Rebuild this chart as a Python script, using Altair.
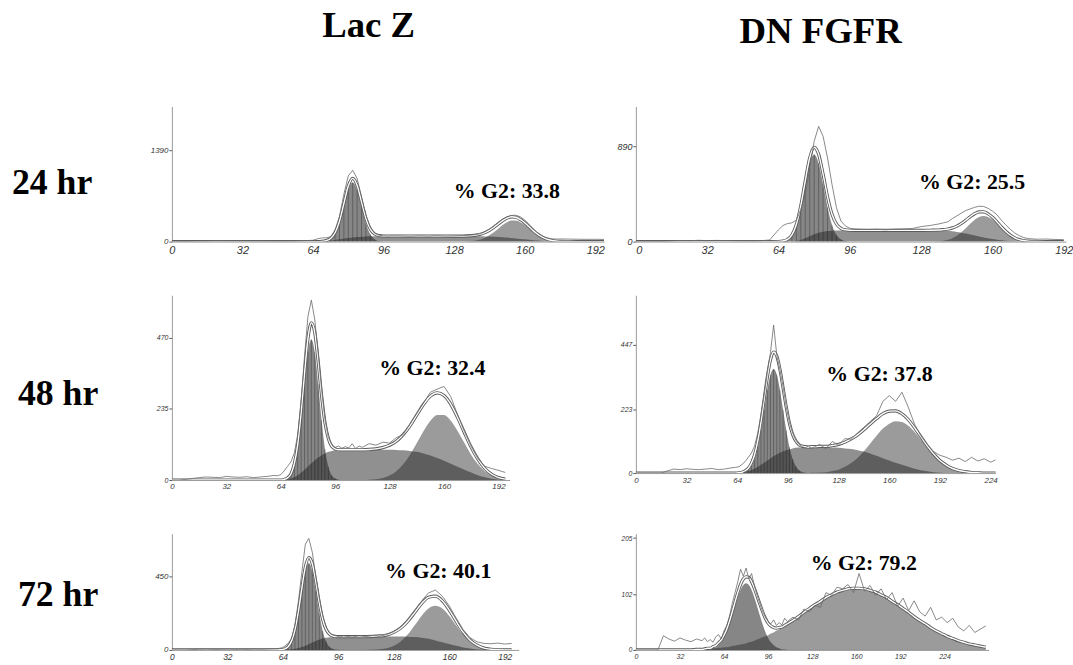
import altair as alt
import pandas as pd

# ---------------- Panel 1 : Lac Z, 24 hr ----------------
P1_X = [0, 4, 8, 12, 16, 20, 24, 28, 32, 36, 40, 44, 48, 52, 56, 60,
        64, 66, 68, 70, 72, 74, 76, 78, 80, 82, 84, 86, 88, 90, 92, 94, 96, 98, 100,
        104, 108, 112, 116, 120, 124, 128, 132, 136,
        138, 140, 142, 144, 146, 148, 150, 152, 154, 156, 158, 160, 162, 164, 166, 168, 170, 172, 174, 176,
        180, 184, 188, 192, 196]
P1_G1 = [0] * 16 + [0, 0, 1, 8, 33, 110, 275, 532, 789, 900, 789, 532, 275, 110, 33, 8, 1, 0, 0] + [0] * 9 + [0] * 20 + [0] * 5
P1_S = [0] * 16 + [0, 0, 2, 8, 15, 25, 35, 45, 55, 62, 68, 73, 77, 80, 82, 83, 84, 85, 85] + \
       [85, 85, 85, 85, 85, 85, 84, 83, 82] + \
       [81, 80, 78, 76, 73, 70, 66, 61, 55, 48, 41, 34, 27, 21, 15, 10, 6, 3, 1, 0] + [0, 0, 0, 0, 0]
P1_G2 = [0] * 16 + [0] * 19 + [0, 0, 0, 0, 0, 0, 0, 1, 8] + \
        [17, 33, 58, 95, 142, 197, 252, 296, 322, 322, 296, 252, 197, 142, 95, 58, 33, 17, 8, 4] + [1, 0, 0, 0, 0]
P1_FIT = [0] * 16 + [0, 0, 3, 16, 48, 135, 310, 577, 844, 962, 857, 605, 352, 190, 115, 91, 85, 85, 85] + \
         [85, 85, 85, 85, 85, 85, 84, 84, 90] + \
         [98, 113, 136, 171, 215, 267, 318, 357, 377, 370, 337, 286, 224, 163, 110, 68, 39, 20, 9, 4] + [1, 0, 0, 0, 0]
P1_RAW = [0, 0, 3, 5, 8, 12, 10, 9, 8, 7, 8, 6, 5, 6, 8, 14] + \
         [20, 42, 55, 58, 75, 175, 380, 720, 1000, 1085, 960, 680, 400, 215, 125, 96, 88, 84, 88] + \
         [86, 82, 88, 84, 90, 85, 88, 92, 100] + \
         [105, 122, 150, 190, 240, 292, 340, 378, 398, 400, 378, 330, 262, 190, 130, 85, 56, 44, 38, 40] + \
         [38, 36, 34, 35, 33]

# ---------------- Panel 2 : DN FGFR, 24 hr ----------------
P2_X = [0, 4, 8, 12, 16, 20, 24, 28, 32, 36, 40, 44, 48, 52, 56, 60,
        64, 66, 68, 70, 72, 74, 76, 78, 80, 82, 84, 86, 88, 90, 92, 94, 96, 98, 100,
        104, 108, 112, 116, 120, 124, 128, 132, 136,
        138, 140, 142, 144, 146, 148, 150, 152, 154, 156, 158, 160, 162, 164, 166, 168, 170, 172, 174, 176,
        180, 184, 188, 192]
P2_G1 = [0] * 16 + [1, 5, 20, 61, 155, 320, 537, 732, 812, 732, 537, 320, 155, 61, 20, 5, 1, 0, 0] + [0] * 9 + [0] * 20 + [0] * 4
P2_S = [0] * 16 + [0, 0, 0, 1, 5, 15, 30, 50, 68, 82, 92, 98, 101, 103, 104, 105, 105, 105, 105] + \
       [105, 105, 105, 105, 105, 105, 105, 105, 104] + \
       [103, 100, 96, 90, 83, 75, 66, 57, 48, 39, 31, 24, 18, 13, 9, 6, 3, 2, 1, 0] + [0, 0, 0, 0]
P2_G2 = [0] * 16 + [0] * 19 + [0, 0, 0, 0, 0, 0, 0, 1, 4] + \
        [9, 17, 32, 55, 86, 124, 166, 203, 229, 239, 229, 203, 166, 124, 86, 55, 32, 17, 9, 4] + [1, 0, 0, 0]
P2_FIT = [0] * 16 + [1, 5, 20, 62, 160, 335, 567, 782, 880, 814, 629, 418, 256, 164, 124, 110, 106, 105, 105] + \
         [105, 105, 105, 105, 105, 105, 105, 106, 108] + \
         [112, 117, 128, 145, 169, 199, 232, 260, 277, 278, 260, 227, 184, 137, 95, 61, 35, 19, 10, 4] + [1, 0, 0, 0]
P2_RAW = [0, 0, 0, 0, 5, 10, 8, 12, 9, 11, 10, 8, 7, 6, 8, 15] + \
         [110, 150, 168, 175, 200, 300, 440, 688, 936, 1075, 983, 781, 533, 316, 192, 146, 124, 118, 115] + \
         [112, 115, 110, 116, 118, 122, 140, 150, 165] + \
         [175, 185, 215, 240, 265, 290, 305, 320, 330, 328, 310, 285, 250, 200, 155, 115, 80, 55, 38, 28] + \
         [22, 24, 20, 18]

# ---------------- Panel 3 : Lac Z, 48 hr ----------------
P3_X = [0, 4, 8, 12, 16, 20, 24, 28, 32, 36, 40, 44, 48, 52, 56, 60,
        62, 64, 66, 68, 70, 72, 74, 76, 78, 80, 82, 84, 86, 88, 90, 92, 94, 96, 98, 100, 102, 104, 106, 108, 110,
        112, 116, 120, 124, 128, 132, 136, 140, 144, 148, 152, 156, 160, 164, 168, 172, 176, 180, 184, 188, 192, 196]
P3_G1 = [0] * 16 + [0, 0, 1, 5, 15, 44, 102, 198, 318, 422, 464, 422, 318, 198, 102, 44, 15, 5, 1, 0, 0, 0, 0, 0, 0] + [0] * 22
P3_S = [0] * 16 + [0, 0, 1, 2, 5, 10, 16, 25, 34, 45, 55, 65, 74, 82, 88, 93, 96, 98, 99, 100, 100, 100, 100, 100, 100] + \
       [100, 100, 100, 100, 100, 99, 98, 96, 93, 88, 81, 73, 64, 54, 44, 34, 25, 16, 9, 4, 1, 0]
P3_G2 = [0] * 16 + [0] * 25 + [0, 1, 3, 7, 15, 29, 52, 83, 122, 162, 196, 215, 215, 196, 162, 122, 83, 52, 29, 15, 7, 3]
P3_FIT = [0] * 16 + [0, 0, 2, 7, 20, 54, 118, 223, 352, 467, 519, 487, 392, 280, 190, 137, 111, 103, 100, 100, 100, 100, 100, 100, 100] + \
         [100, 101, 103, 107, 115, 128, 150, 179, 215, 250, 277, 288, 279, 250, 206, 156, 108, 68, 38, 19, 8, 3]
P3_RAW = [0, 0, 2, 5, 8, 10, 9, 8, 12, 10, 9, 11, 8, 10, 12, 15] + \
         [14, 18, 30, 45, 60, 90, 150, 260, 410, 540, 594, 530, 420, 300, 200, 140, 118, 108, 112, 105, 110, 106, 120, 104, 112] + \
         [108, 120, 115, 125, 122, 140, 150, 185, 220, 255, 290, 300, 309, 275, 215, 160, 110, 70, 45, 38, 32, 25]

# ---------------- Panel 4 : DN FGFR, 48 hr ----------------
P4_X = [0, 4, 8, 12, 16, 20, 24, 28, 32, 36, 40, 44, 48, 52, 56, 60,
        63, 65, 67, 69, 71, 73, 75, 77, 79, 81, 83, 85, 87, 89, 91, 93, 95, 97, 99, 101, 103, 105, 107, 109, 111, 113,
        116, 120, 124, 128, 132, 136, 140, 144, 148, 152, 156, 160, 164, 168, 172, 176, 180, 184, 188, 192, 196,
        200, 204, 208, 212, 216, 220, 224, 228]
P4_G1 = [0] * 16 + [0, 0, 1, 4, 10, 24, 49, 90, 149, 220, 290, 343, 363, 343, 290, 220, 149, 90, 49, 24, 10, 4, 1, 0, 0, 0] + [0] * 29
P4_S = [0] * 16 + [0, 1, 2, 4, 7, 11, 16, 22, 29, 36, 44, 52, 59, 65, 71, 76, 80, 83, 86, 88, 89, 90, 91, 91, 91, 91] + \
       [91, 90, 89, 88, 86, 84, 80, 75, 68, 60, 52, 44, 36, 29, 22, 15, 10, 6, 3, 1, 0, 0, 0, 0, 0, 0, 0, 0, 0]
P4_G2 = [0] * 16 + [0] * 24 + [1, 1] + \
        [2, 3, 7, 12, 22, 35, 53, 76, 103, 130, 155, 172, 181, 178, 165, 143, 117, 89, 64, 43, 28, 16, 9, 5, 2, 1, 0, 0, 0]
P4_FIT = [0] * 16 + [0, 1, 3, 8, 17, 35, 65, 112, 178, 256, 334, 395, 422, 408, 361, 296, 229, 173, 135, 112, 99, 94, 92, 91, 92, 92] + \
         [93, 93, 96, 100, 108, 119, 133, 151, 171, 190, 207, 216, 217, 207, 187, 158, 127, 95, 67, 44, 28, 16, 9, 5, 2, 1, 0, 0, 0]
P4_RAW = [0, 0, 0, 0, 0, 8, 14, 12, 15, 13, 12, 14, 16, 12, 14, 18] + \
         [20, 22, 30, 40, 55, 70, 95, 140, 200, 270, 350, 420, 516, 410, 360, 300, 230, 175, 140, 115, 100, 92, 88, 95, 85, 92] + \
         [100, 85, 110, 98, 120, 118, 140, 160, 180, 200, 250, 270, 250, 282, 230, 170, 130, 100, 75, 62, 55, 45, 52, 40, 55, 42, 50, 38, 48]

# ---------------- Panel 5 : Lac Z, 72 hr ----------------
P5_X = [0, 4, 8, 12, 16, 20, 24, 28, 32, 36, 40, 44, 48, 52, 56, 60,
        61, 63, 65, 67, 69, 71, 73, 75, 77, 79, 81, 83, 85, 87, 89, 91, 93, 95, 97, 99,
        100, 104, 108, 112, 116, 120, 124, 128, 132, 136, 140, 144, 148, 152, 156, 160, 164, 168, 172, 176,
        180, 184, 188, 192, 196]
P5_G1 = [0] * 16 + [0, 1, 5, 18, 50, 117, 227, 364, 484, 532, 484, 364, 227, 117, 50, 18, 5, 1, 0, 0] + [0] * 25
P5_S = [0] * 16 + [0, 0, 1, 2, 4, 7, 12, 18, 26, 35, 45, 55, 63, 70, 75, 78, 80, 81, 82, 82] + \
       [82, 82, 82, 82, 82, 82, 82, 82, 82, 81, 79, 75, 68, 58, 47, 36, 25, 15, 8, 3, 1, 0, 0, 0, 0]
P5_G2 = [0] * 16 + [0] * 20 + [0, 0, 0, 0, 1, 4, 10, 26, 52, 94, 150, 209, 255, 272, 255, 209, 150, 94, 52, 26, 10, 4, 1, 0, 0]
P5_FIT = [0] * 16 + [0, 1, 6, 20, 54, 124, 239, 382, 510, 567, 529, 419, 290, 187, 125, 96, 85, 82, 82, 82] + \
         [82, 82, 82, 82, 83, 86, 92, 108, 134, 175, 229, 284, 323, 330, 302, 245, 175, 109, 60, 29, 11, 4, 1, 0, 0]
P5_RAW = [0, 0, 0, 2, 4, 5, 3, 4, 5, 3, 4, 3, 5, 4, 6, 8] + \
         [8, 12, 22, 40, 70, 150, 300, 480, 650, 685, 600, 450, 320, 210, 140, 105, 92, 85, 80, 86] + \
         [84, 80, 86, 82, 88, 85, 95, 112, 140, 190, 245, 300, 350, 368, 330, 270, 195, 125, 75, 50, 40, 38, 42, 36, 40]

# ---------------- Panel 6 : DN FGFR, 72 hr ----------------
P6_X = [0, 4, 8, 12, 16, 20, 24, 28, 32, 36, 40, 44, 48,
        50, 52, 54, 56, 58, 60, 62, 64, 66, 68, 70, 72, 74, 76, 78, 80, 82, 84, 86, 88, 90, 92, 94, 96, 98,
        100, 102, 104, 106, 108, 110,
        114, 118, 122, 126, 130, 134, 138, 142, 146, 150, 154, 158, 162, 166, 170, 174, 178, 182, 186, 190,
        194, 198, 202, 206, 210, 214, 218, 222, 226, 230, 234, 238, 242, 246, 250, 254]
P6_G1 = [0] * 13 + [0, 1, 1, 3, 5, 9, 14, 22, 33, 47, 63, 80, 96, 110, 119, 122, 119, 110, 96, 80, 63, 47, 33, 22, 14, 9, 5, 3, 1, 1, 0] + [0] * 36
P6_S = [0] * 80
P6_G2 = [0, 0, 0, 0, 0, 0, 0, 0, 0, 0, 0, 1, 1] + \
        [2, 2, 2, 3, 3, 4, 4, 5, 5, 6, 7, 8, 9, 10, 11, 12, 14, 15, 17, 19, 21, 23, 25, 27, 30, 32, 35, 38, 41, 44, 48] + \
        [54, 61, 69, 76, 83, 89, 96, 101, 106, 109, 112, 113, 113, 112, 109, 106, 101, 96, 89, 83, 76, 69, 61, 54,
         48, 41, 35, 30, 25, 21, 17, 14, 11, 9, 7, 5]
P6_FIT = [0, 0, 0, 0, 0, 0, 0, 0, 0, 0, 0, 1, 1] + \
         [2, 3, 3, 6, 8, 13, 18, 27, 38, 53, 70, 88, 105, 120, 130, 134, 133, 125, 113, 99, 84, 70, 58, 49, 44, 41, 40, 41, 42, 45, 48] + \
         [54, 61, 69, 76, 83, 89, 96, 101, 106, 109, 112, 113, 113, 112, 109, 106, 101, 96, 89, 83, 76, 69, 61, 54,
          48, 41, 35, 30, 25, 21, 17, 14, 11, 9, 7, 5]
P6_RAW = [0, 0, 0, 0, 0, 26, 20, 16, 22, 18, 15, 20, 17] + \
         [22, 15, 19, 14, 24, 28, 20, 35, 45, 62, 85, 105, 125, 148, 135, 150, 130, 140, 118, 100, 85, 70, 60, 52, 48, 55, 45, 50, 46, 58, 52] + \
         [60, 55, 75, 70, 82, 78, 105, 100, 115, 112, 120, 105, 140, 108, 118, 100, 112, 92, 105, 80, 95, 72, 90, 70,
          62, 78, 55, 60, 50, 58, 42, 35, 45, 32, 38, 44]

# ---------------- labels ----------------
COL_TITLES = ["Lac Z", "DN FGFR"]
ROW_TITLES = ["24 hr", "48 hr", "72 hr"]
G2_NOTES = ["% G2: 33.8", "% G2: 25.5", "% G2: 32.4", "% G2: 37.8", "% G2: 40.1", "% G2: 79.2"]
TICKS_192 = [0, 32, 64, 96, 128, 160, 192]
TICKS_224 = [0, 32, 64, 96, 128, 160, 192, 224]

SERIF = "Liberation Serif"
SANS = "Liberation Sans"


def long_df(x, g1, s, g2, fit, raw):
    rows = []
    for name, arr in (("g1", g1), ("s", s), ("g2", g2), ("fit", fit), ("raw", raw)):
        assert len(arr) == len(x), (name, len(arr), len(x))
        for xi, yi in zip(x, arr):
            rows.append({"x": xi, "val": yi, "comp": name})
    return pd.DataFrame(rows)


def panel(data, xmax, ymax, xticks, yticks, w, h, note, note_xy, xfs, yfs,
          header=None, header_xy=None, flush=False, stripes=True):
    df = long_df(*data)
    X = alt.X("x:Q", scale=alt.Scale(domain=[0, xmax], nice=False, zero=False),
              axis=alt.Axis(values=xticks, title=None, grid=False, labelFontSize=xfs, tickSize=0,
                            labelPadding=3, labelFlush=flush, domainColor="#9a9a9a", domainWidth=1,
                            labelColor="#333333", labelFont=SANS, labelFontStyle="italic",
                            labelOverlap=False))
    Y = alt.Y("val:Q", scale=alt.Scale(domain=[0, ymax], nice=False),
              axis=alt.Axis(values=yticks, title=None, grid=False, labelFontSize=yfs, tickSize=3,
                            tickColor="#555555", labelPadding=1, domainColor="#9a9a9a", domainWidth=1,
                            labelColor="#333333", labelFont=SANS, labelFontStyle="italic",
                            labelOverlap=False, format="d"))
    base = alt.Chart(df)

    def comp(c):
        return base.transform_filter(alt.datum.comp == c)

    layers = [
        comp("s").mark_area(color="#222222", opacity=0.5, interpolate="monotone", clip=True).encode(x=X, y=Y),
        comp("g2").mark_area(color="#222222", opacity=0.45, interpolate="monotone", clip=True).encode(x=X, y=Y),
        comp("g1").mark_area(color="#222222", opacity=0.55, interpolate="monotone", clip=True).encode(x=X, y=Y),
    ]
    if stripes:
        layers.append(
            comp("g1").transform_filter(alt.datum.val > 4)
            .mark_rule(color="#111111", strokeWidth=0.7, opacity=0.45, clip=True)
            .encode(x=X, y=Y, y2=alt.datum(0)))
    layers += [
        comp("fit").mark_line(color="#5a5a5a", strokeWidth=3.2, interpolate="monotone", clip=True).encode(x=X, y=Y),
        comp("fit").mark_line(color="white", strokeWidth=1.4, interpolate="monotone", clip=True).encode(x=X, y=Y),
        comp("raw").mark_line(color="#6a6a6a", strokeWidth=0.8, clip=True).encode(x=X, y=Y),
    ]
    note_df = pd.DataFrame({"x": [note_xy[0]], "val": [note_xy[1]], "t": [note]})
    layers.append(
        alt.Chart(note_df).mark_text(align="left", baseline="alphabetic", font=SERIF, fontWeight="bold",
                                     fontSize=22, color="black")
        .encode(x=X, y=Y, text="t:N"))
    if header is not None:
        hdf = pd.DataFrame({"t": [header]})
        layers.append(
            alt.Chart(hdf).mark_text(align="center", baseline="alphabetic", font=SERIF, fontWeight="bold",
                                     fontSize=37, color="black")
            .encode(x=alt.value(header_xy[0]), y=alt.value(header_xy[1]), text="t:N"))
    return alt.layer(*layers).properties(width=w, height=h)


def row_label(text, h, lx, ly):
    d = pd.DataFrame({"t": [text]})
    return alt.Chart(d).mark_text(align="left", baseline="alphabetic", font=SERIF, fontWeight="bold",
                                  fontSize=36, color="black").encode(
        x=alt.value(lx), y=alt.value(ly), text="t:N").properties(width=141, height=h)


p1 = panel((P1_X, P1_G1, P1_S, P1_G2, P1_FIT, P1_RAW), 196, 2055, TICKS_192, [0, 1390], 435, 136,
           G2_NOTES[0], (127.8, 669), 11, 8, header=COL_TITLES[0], header_xy=(198, -70))
p2 = panel((P2_X, P2_G1, P2_S, P2_G2, P2_FIT, P2_RAW), 193, 1261, TICKS_192, [0, 890], 433, 136,
           G2_NOTES[1], (127, 489), 11, 9, header=COL_TITLES[1], header_xy=(186, -64), flush=True)
p3 = panel((P3_X, P3_G1, P3_S, P3_G2, P3_FIT, P3_RAW), 198.6, 610, TICKS_192, [0, 235, 470], 340, 186,
           G2_NOTES[2], (121.9, 348), 8, 7)
p4 = panel((P4_X, P4_G1, P4_S, P4_G2, P4_FIT, P4_RAW), 227.1, 620, TICKS_224, [0, 223, 447], 362, 179,
           G2_NOTES[3], (120.3, 320), 8, 7)
p5 = panel((P5_X, P5_G1, P5_S, P5_G2, P5_FIT, P5_RAW), 200, 714, TICKS_192, [0, 450], 349, 117,
           G2_NOTES[4], (123, 440), 8.5, 8)
p6 = panel((P6_X, P6_G1, P6_S, P6_G2, P6_FIT, P6_RAW), 256, 213, TICKS_224, [0, 102, 205], 355, 117,
           G2_NOTES[5], (126.9, 146), 7, 6.5, stripes=False)

l1 = row_label(ROW_TITLES[0], 136, 12, 88)
l2 = row_label(ROW_TITLES[1], 186, 18, 110)
l3 = row_label(ROW_TITLES[2], 117, 18, 73)

chart = alt.concat(l1, p1, p2, l2, p3, p4, l3, p5, p6, columns=3,
                   spacing={"row": 54, "column": 32}, bounds="flush", align="each").configure_view(
    stroke=None).properties(padding={"left": 0, "top": 5, "right": 0, "bottom": 0}, background="white")

chart.save("out.html", embed_options={"renderer": "svg", "actions": False})
